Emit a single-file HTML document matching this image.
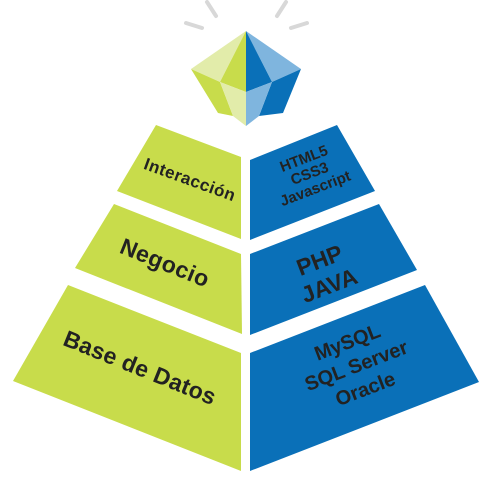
<!DOCTYPE html>
<html><head><meta charset="utf-8"><style>
body{margin:0;background:#fff}
svg{display:block}
text{font-family:"Liberation Sans",sans-serif;font-weight:bold;fill:#222;text-anchor:middle}
</style></head><body>
<svg width="493" height="488" viewBox="0 0 493 488">
<g stroke="#d8d8d8" stroke-width="4" stroke-linecap="round">
<line x1="207" y1="2" x2="216" y2="16"/><line x1="186" y1="23" x2="202" y2="28"/>
<line x1="286" y1="2" x2="277" y2="16"/><line x1="307" y1="23" x2="291" y2="28"/>
</g>
<polygon points="246,31 191,69 220,82" fill="#e2ecaa"/>
<polygon points="246,31 220,82 246,92" fill="#c8dc4b"/>
<polygon points="191,69 220,82 233,116 218,113" fill="#c8dc4b"/>
<polygon points="220,82 246,92 246,126 233,116" fill="#e2ecaa"/>
<polygon points="246,31 301,69 272,82" fill="#7fb5de"/>
<polygon points="246,31 272,82 246,92" fill="#0a70b8"/>
<polygon points="301,69 272,82 259,116 283,113" fill="#0a70b8"/>
<polygon points="272,82 246,92 246,126 259,116" fill="#7fb5de"/>
<g fill="#c8dc4b">
<polygon points="156,125 241,157 241,239 117,191"/>
<polygon points="114,204 241,254 242,334 75,268"/>
<polygon points="68,285 241,353 241,471 13,381"/>
</g>
<g fill="#0a70b8">
<polygon points="250,160 337,125 375,191 250,240"/>
<polygon points="250,254 379,204 417,270 250,335"/>
<polygon points="250,353 425,285 479,382 250,471"/>
</g>
<text transform="translate(188,185) rotate(20)" font-size="17" letter-spacing="0.5">Interacción</text>
<text transform="translate(162,270) rotate(22)" font-size="23" letter-spacing="0.5">Negocio</text>
<text transform="translate(137,375) rotate(22)" font-size="23" letter-spacing="0.3">Base de Datos</text>
<g transform="translate(312,180) rotate(-21)" font-size="15">
<text x="0" y="-18">HTML5</text><text x="0" y="-2">CSS3</text><text x="0" y="14">Javascript</text>
</g>
<g transform="translate(326,277) rotate(-21)" font-size="23">
<text x="0" y="-10">PHP</text><text x="0" y="17">JAVA</text>
</g>
<g transform="translate(358,370) rotate(-21)" font-size="20">
<text x="0" y="-23">MySQL</text><text x="0" y="2">SQL Server</text><text x="0" y="27">Oracle</text>
</g>
</svg>
</body></html>
